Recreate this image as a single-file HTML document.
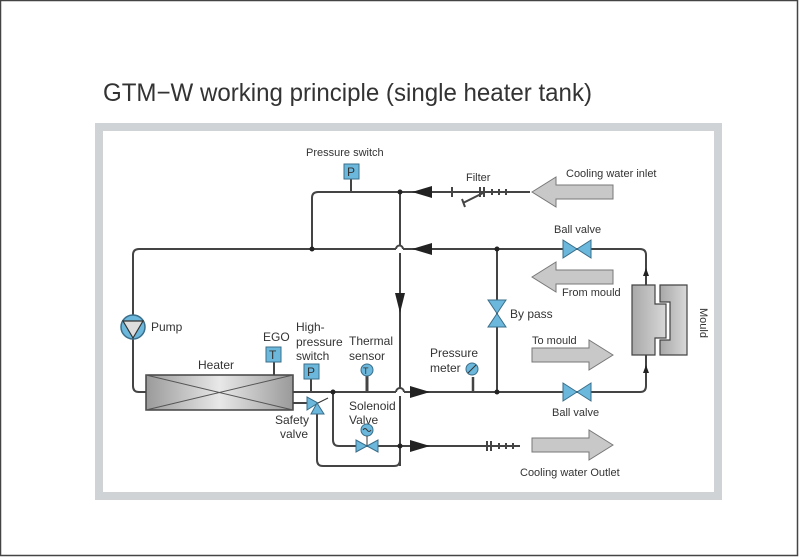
<!DOCTYPE html>
<html><head><meta charset="utf-8"><style>
html,body{margin:0;padding:0;background:#fff}
svg{display:block}
text{font-family:"Liberation Sans",sans-serif;fill:#333}
</style></head><body>
<svg width="800" height="557" viewBox="0 0 800 557" xmlns="http://www.w3.org/2000/svg">
<defs>
<linearGradient id="hg" x1="0" y1="0" x2="1" y2="0">
<stop offset="0" stop-color="#9a9a9a"/><stop offset="0.5" stop-color="#e8e8e8"/><stop offset="1" stop-color="#9a9a9a"/>
</linearGradient>
<linearGradient id="mg" x1="0" y1="0" x2="1" y2="0">
<stop offset="0" stop-color="#a8a8a8"/><stop offset="1" stop-color="#d8d8d8"/>
</linearGradient>
</defs>
<rect x="0.5" y="0.5" width="797" height="555" fill="#fff" stroke="#444" stroke-width="1.5"/>
<text x="103" y="101" font-size="25" textLength="489" lengthAdjust="spacingAndGlyphs" fill="#222">GTM−W working principle (single heater tank)</text>
<rect x="99" y="127" width="619" height="369" fill="#fff" stroke="#d0d3d6" stroke-width="8"/>

<g fill="none" stroke="#444" stroke-width="2">
<!-- top line -->
<path d="M312 249 V198 Q312 192 318 192 H530"/>
<!-- line y=249 -->
<path d="M133 315 V255 Q133 249 139 249 H396 M403 249 H640 Q646 249 646 255 V285"/>
<path d="M396 249 A3.5 3.5 0 0 1 403 249"/>
<!-- vertical x=400 -->
<path d="M400 192 V245 M400 253 V388 M400 396 V466"/>
<!-- pump to heater -->
<path d="M133 339 V386 Q133 392 139 392 H146"/>
<!-- main line -->
<path d="M293 392 H396 M404 392 H640 Q646 392 646 386 V355"/>
<path d="M396 392 A4 4 0 0 1 404 392"/>
<!-- bypass -->
<path d="M497 249 V392"/>
<!-- solenoid loop -->
<path d="M333 392 V440 Q333 446 339 446 H520"/>
<!-- safety loop -->
<path d="M293 403 H310 M317 414 V460 Q317 466 323 466 H394 Q400 466 400 460"/>
<!-- filter marks -->
<path d="M452 187 V197 M480 187 V197 M484 187 V197 M492 189 V195 M499 189 V195 M506 189 V195 M463 203 L485 192 M462 199 L465 207"/>
<path d="M487 441 V451 M491 441 V451 M499 443 V449 M506 443 V449 M513 443 V449"/>
<!-- sensor stems -->
<path d="M351 179 V192 M274 362 V375 M311 379 V392"/>
<path d="M367 376 V392" stroke-width="3"/>
<path d="M473 377 V392" stroke-width="2.5"/>
</g>
<g fill="#222">
<circle cx="312" cy="249" r="2.5"/><circle cx="400" cy="192" r="2.5"/><circle cx="497" cy="249" r="2.5"/>
<circle cx="497" cy="392" r="2.5"/><circle cx="333" cy="392" r="2.5"/><circle cx="400" cy="446" r="2.5"/>
<polygon points="412,192 432,186 432,198"/>
<polygon points="412,249 432,243 432,255"/>
<polygon points="395,293 405,293 400,313"/>
<polygon points="430,392 410,386 410,398"/>
<polygon points="430,446 410,440 410,452"/>
<polygon points="646,268 643,276 649,276"/>
<polygon points="646,365 643,373 649,373"/>
</g>

<!-- pump -->
<circle cx="133" cy="327" r="12" fill="#6cb8dc" stroke="#3a6e8a" stroke-width="1.5"/>
<polygon points="123,321 143,321 133,338" fill="#ddd" stroke="#333" stroke-width="1.2"/>
<text x="151" y="331" font-size="12">Pump</text>

<!-- heater -->
<rect x="146" y="375" width="147" height="35" fill="url(#hg)" stroke="#444" stroke-width="1.5"/>
<path d="M146 375 L293 410 M146 410 L293 375" stroke="#555" stroke-width="1"/>
<text x="198" y="369" font-size="12">Heater</text>

<!-- sensors -->
<text x="263" y="341" font-size="12">EGO</text>
<rect x="266" y="347" width="15" height="15" fill="#6cb8dc" stroke="#3a6e8a"/>
<text x="269" y="359" font-size="12" fill="#223">T</text>
<text x="296" y="331" font-size="12">High-</text>
<text x="296" y="346" font-size="12">pressure</text>
<text x="296" y="360" font-size="12">switch</text>
<rect x="304" y="364" width="15" height="15" fill="#6cb8dc" stroke="#3a6e8a"/>
<text x="307" y="376" font-size="12" fill="#223">P</text>
<text x="349" y="345" font-size="12">Thermal</text>
<text x="349" y="360" font-size="12">sensor</text>
<circle cx="367" cy="370" r="6" fill="#6cb8dc" stroke="#3a6e8a"/>
<text x="363" y="374" font-size="9">T</text>
<text x="306" y="156" font-size="11">Pressure switch</text>
<rect x="344" y="164" width="15" height="15" fill="#6cb8dc" stroke="#3a6e8a"/>
<text x="347" y="176" font-size="12" fill="#223">P</text>

<!-- safety valve -->
<polygon points="307,397 307,410 318,403" fill="#6cb8dc" stroke="#3a6e8a"/>
<polygon points="311,414 324,414 317,403" fill="#6cb8dc" stroke="#3a6e8a"/>
<path d="M318 403 L328 398" stroke="#333"/>
<text x="275" y="424" font-size="12">Safety</text>
<text x="280" y="438" font-size="12">valve</text>

<!-- solenoid -->
<text x="349" y="410" font-size="12">Solenoid</text>
<text x="349" y="424" font-size="12">Valve</text>
<circle cx="367" cy="430" r="6" fill="#6cb8dc" stroke="#3a6e8a"/>
<path d="M363 430 q2 -3 4 0 q2 3 4 0" fill="none" stroke="#333"/>
<path d="M367 436 V446" stroke="#333"/>
<polygon points="356,440 356,452 378,440 378,452" fill="#6cb8dc" stroke="#3a6e8a"/>

<!-- pressure meter -->
<text x="430" y="357" font-size="12">Pressure</text>
<text x="430" y="372" font-size="12">meter</text>
<circle cx="472" cy="369" r="6" fill="#6cb8dc" stroke="#3a6e8a"/>
<path d="M468 373 L476 365" stroke="#333"/>

<!-- filter -->
<text x="466" y="181" font-size="11">Filter</text>

<!-- ball valves -->
<polygon points="563,240 563,258 591,240 591,258" fill="#6cb8dc" stroke="#3a6e8a"/>
<text x="554" y="233" font-size="11">Ball valve</text>
<polygon points="563,383 563,401 591,383 591,401" fill="#6cb8dc" stroke="#3a6e8a"/>
<text x="552" y="416" font-size="11">Ball valve</text>
<!-- bypass valve -->
<polygon points="488,300 506,300 488,327 506,327" fill="#6cb8dc" stroke="#3a6e8a"/>
<text x="510" y="318" font-size="12">By pass</text>

<!-- big arrows -->
<g fill="#c8c8c8" stroke="#777" stroke-width="1">
<polygon points="532,192 556,177 556,185 613,185 613,199 556,199 556,207"/>
<polygon points="532,277 556,262 556,270 613,270 613,284 556,284 556,292"/>
<polygon points="613,355 589,340 589,348 532,348 532,362 589,362 589,370"/>
<polygon points="613,445 589,430 589,438 532,438 532,452 589,452 589,460"/>
</g>
<text x="566" y="177" font-size="11">Cooling water inlet</text>
<text x="562" y="296" font-size="11">From mould</text>
<text x="532" y="344" font-size="11">To mould</text>
<text x="520" y="476" font-size="11">Cooling water Outlet</text>

<!-- mould -->
<path d="M632 285 H655 V304 H666 V338 H655 V355 H632 Z" fill="url(#mg)" stroke="#444" stroke-width="1.2"/>
<path d="M660 285 H687 V355 H660 V340 H670 V302 H660 Z" fill="url(#mg)" stroke="#444" stroke-width="1.2"/>
<text x="0" y="0" font-size="11" transform="translate(700 308) rotate(90)">Mould</text>
</svg>
</body></html>
